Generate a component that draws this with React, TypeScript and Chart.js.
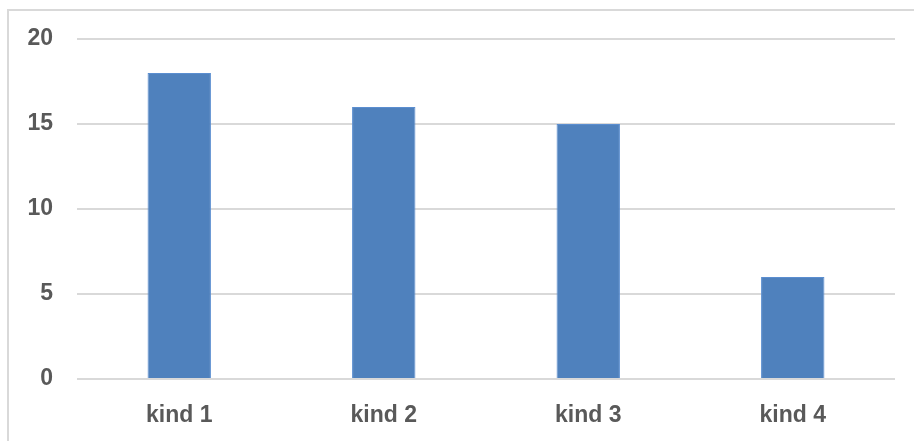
import React, { useEffect, useRef } from "react";
import { Chart, registerables } from "chart.js";

Chart.register(...registerables);

const categories = ["kind 1", "kind 2", "kind 3", "kind 4"];
const values = [18, 16, 15, 6];
const yMin = 0;
const yMax = 20;
const yStep = 5;

const FONT = "'Liberation Sans', Arial, sans-serif";

export default function App() {
  const ref = useRef<HTMLCanvasElement>(null);
  useEffect(() => {
    if (!ref.current) return;
    const chart = new Chart(ref.current, {
      type: "bar",
      data: {
        labels: categories,
        datasets: [
          {
            data: values,
            backgroundColor: "#4F81BD",
            borderColor: "#5B8ED0",
            borderWidth: 1,
            categoryPercentage: 1,
            barPercentage: 0.31,
          },
        ],
      },
      options: {
        animation: false,
        responsive: false,
        maintainAspectRatio: false,
        layout: { padding: { left: 0, right: 19, top: 39, bottom: 0 } },
        plugins: { legend: { display: false }, tooltip: { enabled: false } },
        scales: {
          x: {
            grid: { display: false },
            border: { display: false },
            ticks: {
              color: "#595959",
              font: { family: FONT, size: 23, weight: "bold" },
              padding: 15,
            },
            afterFit: (s: any) => {
              s.height = 62;
            },
          },
          y: {
            min: yMin,
            max: yMax,
            grid: { color: "#D9D9D9", lineWidth: 2, drawTicks: false },
            border: { display: false },
            ticks: {
              stepSize: yStep,
              color: "#595959",
              font: { family: FONT, size: 23, weight: "bold" },
              padding: 24,
            },
            afterFit: (s: any) => {
              s.width = 77;
            },
          },
        },
      },
    });
    return () => chart.destroy();
  }, []);
  return (
    <div style={{ position: "fixed", left: 0, top: 0, width: 914, height: 441, background: "#fff" }}>
      <canvas ref={ref} width={914} height={441} style={{ position: "absolute", left: 0, top: 0 }} />
      <div
        style={{
          position: "absolute",
          left: 7,
          top: 9,
          width: 1000,
          height: 1000,
          border: "2px solid #D9D9D9",
          boxSizing: "border-box",
          pointerEvents: "none",
        }}
      />
    </div>
  );
}
